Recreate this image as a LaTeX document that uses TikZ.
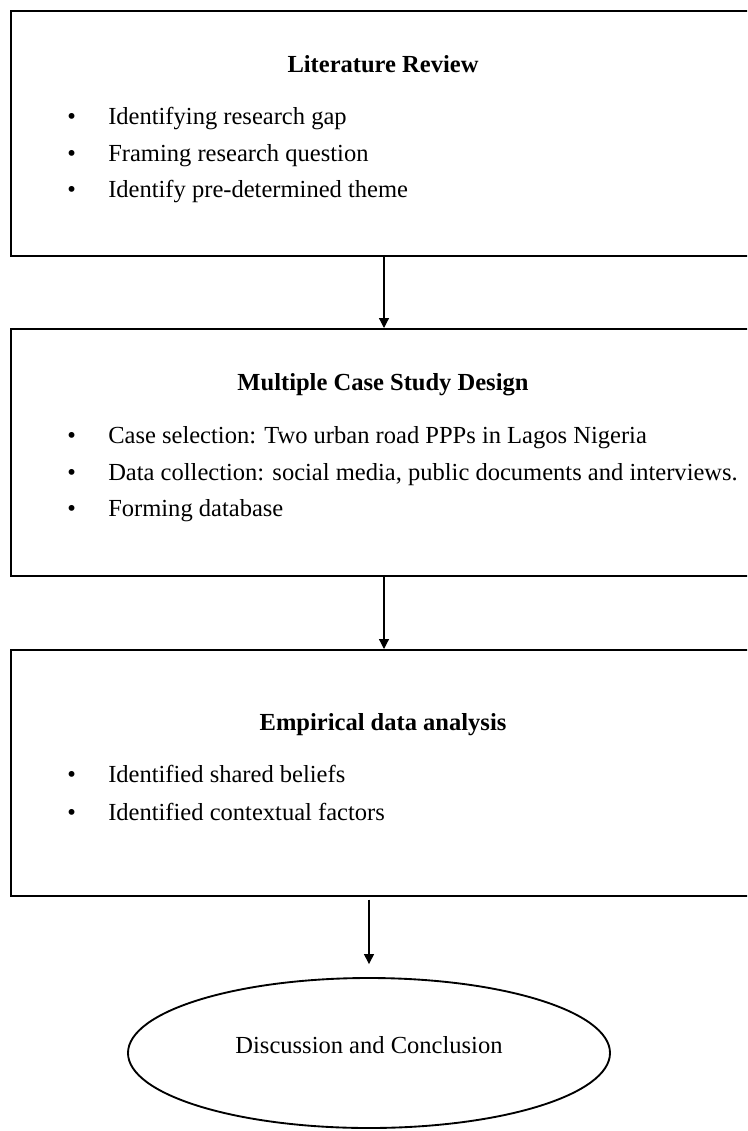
\documentclass[tikz,border=0pt]{standalone}
\usepackage{fontspec}
\setmainfont{Liberation Serif}
\usetikzlibrary{arrows.meta,shapes.geometric}

\newcommand{\bulletitem}[1]{\makebox[30.75pt][l]{\textbullet}#1}

\begin{document}
\begin{tikzpicture}[x=0.75pt,y=0.75pt,yscale=-1,xscale=1,
  txt/.style={inner sep=0pt, font=\fontsize{18.4}{22}\selectfont},
  head/.style={inner sep=0pt, anchor=mid, font=\fontsize{18.4}{22}\selectfont\bfseries},
  item/.style={txt, anchor=mid west},
  stage/.style={draw, line width=1.5pt, minimum width=559.5pt, anchor=north west, inner sep=0pt},
  flow/.style={line width=0.9pt, -{Triangle[length=7.5pt,width=7.5pt]}}]
\useasboundingbox (0,0) rectangle (747,1131);
\clip (0,0) rectangle (747,1131);

%Boxes
\node[stage, minimum height=183.75pt] (lit) at (10,10) {};
\node[stage, minimum height=185.25pt] (case) at (10,328) {};
\node[stage, minimum height=184.5pt] (emp) at (10,649) {};
%Ellipse
\node[draw, ellipse, line width=1.4pt, minimum width=361.5pt, minimum height=112.5pt, txt, text depth=12pt] (concl) at (369,1053) {Discussion and Conclusion};

% Text Node
\node[head] (litT) at (383,69) {Literature Review};
\node[item] (lit1) at (67,121) {\bulletitem{Identifying research gap}};
\node[item] (lit2) at (67,158) {\bulletitem{Framing research question}};
\node[item] (lit3) at (67,194) {\bulletitem{Identify pre-determined theme}};
% Text Node
\node[head] (caseT) at (383,387) {Multiple Case Study Design};
\node[item] (case1) at (67,440) {\bulletitem{Case selection: Two urban road PPPs in Lagos Nigeria}};
\node[item] (case2) at (67,477) {\bulletitem{Data collection: social media, public documents and interviews.}};
\node[item] (case3) at (67,513) {\bulletitem{Forming database}};
% Text Node
\node[head] (empT) at (383,727) {Empirical data analysis};
\node[item] (emp1) at (67,779) {\bulletitem{Identified shared beliefs}};
\node[item] (emp2) at (67,817) {\bulletitem{Identified contextual factors}};

%Straight Lines
\draw[flow] (lit.south) -- (case.north);
\draw[flow] (case.south) -- (emp.north);
\draw[flow, shorten <=2pt, shorten >=9.75pt] (emp.south -| concl.north) -- (concl.north);

\end{tikzpicture}
\end{document}
